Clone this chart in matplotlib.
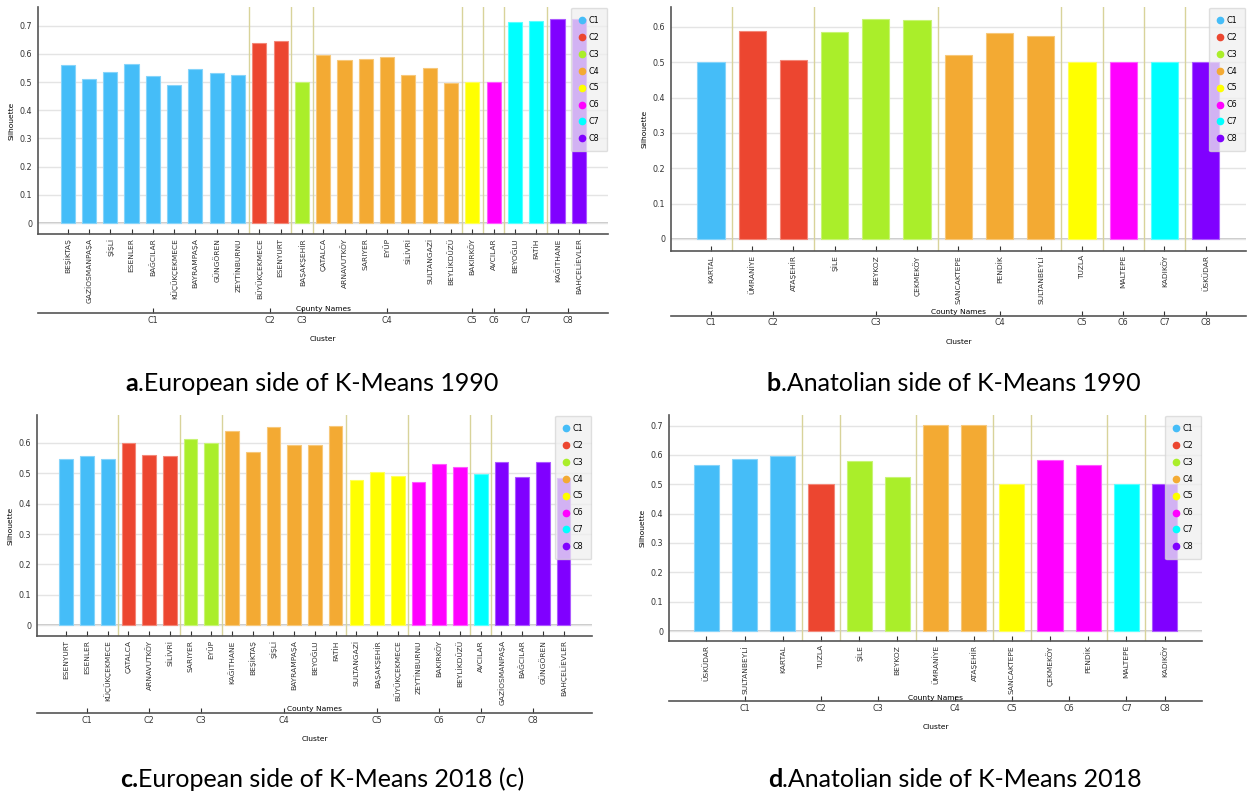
import numpy as np
import matplotlib
matplotlib.use("Agg")
import matplotlib.pyplot as plt
from matplotlib.lines import Line2D

# ── Data ─────────────────────────────────────────────────────────────────────
CLUSTERS = ["C1", "C2", "C3", "C4", "C5", "C6", "C7", "C8"]
COLORS = ["#45bdf8", "#ec4630", "#aaee2a", "#f3aa33",
          "#ffff00", "#ff00ff", "#00ffff", "#8000ff"]

eu90_names = ["BEŞİKTAŞ", "GAZİOSMANPAŞA", "ŞİŞLİ", "ESENLER", "BAĞCILAR",
              "KÜÇÜKÇEKMECE", "BAYRAMPAŞA", "GÜNGÖREN", "ZEYTİNBURNU",
              "BÜYÜKÇEKMECE", "ESENYURT", "BAŞAKŞEHİR", "ÇATALCA",
              "ARNAVUTKÖY", "SARIYER", "EYÜP", "SİLİVRİ", "SULTANGAZİ",
              "BEYLİKDÜZÜ", "BAKIRKÖY", "AVCILAR", "BEYOĞLU", "FATİH",
              "KAĞITHANE", "BAHÇELİEVLER"]
eu90_values = [0.562, 0.511, 0.536, 0.564, 0.520, 0.490, 0.545, 0.531, 0.525,
               0.640, 0.646, 0.499, 0.596, 0.578, 0.581, 0.589, 0.526, 0.549,
               0.497, 0.499, 0.499, 0.712, 0.715, 0.725, 0.725]
eu90_cluster = [1, 1, 1, 1, 1, 1, 1, 1, 1, 2, 2, 3, 4, 4, 4, 4, 4, 4, 4,
                5, 6, 7, 7, 8, 8]

an90_names = ["KARTAL", "ÜMRANİYE", "ATAŞEHİR", "ŞİLE", "BEYKOZ", "ÇEKMEKÖY",
              "SANCAKTEPE", "PENDİK", "SULTANBEYLİ", "TUZLA", "MALTEPE",
              "KADIKÖY", "ÜSKÜDAR"]
an90_values = [0.500, 0.588, 0.506, 0.584, 0.621, 0.620, 0.521, 0.582, 0.574,
               0.500, 0.500, 0.500, 0.500]
an90_cluster = [1, 2, 2, 3, 3, 3, 4, 4, 4, 5, 6, 7, 8]

eu18_names = ["ESENYURT", "ESENLER", "KÜÇÜKÇEKMECE", "ÇATALCA", "ARNAVUTKÖY",
              "SİLİVRİ", "SARIYER", "EYÜP", "KAĞITHANE", "BEŞİKTAŞ", "ŞİŞLİ",
              "BAYRAMPAŞA", "BEYOĞLU", "FATİH", "SULTANGAZİ", "BAŞAKŞEHİR",
              "BÜYÜKÇEKMECE", "ZEYTİNBURNU", "BAKIRKÖY", "BEYLİKDÜZÜ",
              "AVCILAR", "GAZİOSMANPAŞA", "BAĞCILAR", "GÜNGÖREN",
              "BAHÇELİEVLER"]
eu18_values = [0.547, 0.557, 0.546, 0.601, 0.559, 0.557, 0.612, 0.600, 0.639,
               0.569, 0.654, 0.594, 0.594, 0.656, 0.478, 0.505, 0.492, 0.470,
               0.532, 0.520, 0.499, 0.537, 0.488, 0.536, 0.484]
eu18_cluster = [1, 1, 1, 2, 2, 2, 3, 3, 4, 4, 4, 4, 4, 4, 5, 5, 5, 6, 6, 6,
                7, 8, 8, 8, 8]

an18_names = ["ÜSKÜDAR", "SULTANBEYLİ", "KARTAL", "TUZLA", "ŞİLE", "BEYKOZ",
              "ÜMRANİYE", "ATAŞEHİR", "SANCAKTEPE", "ÇEKMEKÖY", "PENDİK",
              "MALTEPE", "KADIKÖY"]
an18_values = [0.565, 0.586, 0.597, 0.500, 0.579, 0.524, 0.701, 0.701, 0.500,
               0.583, 0.566, 0.500, 0.500]
an18_cluster = [1, 1, 1, 2, 3, 3, 4, 4, 5, 6, 6, 7, 8]

# ── Helpers ──────────────────────────────────────────────────────────────────
SEP_COLOR = "#d8d39a"
GRID_COLOR = "#e4e4e4"
AXIS_COLOR = "#555555"
TICK_FS = 5.4


def lighten(c, f=0.35):
    rgb = np.array(matplotlib.colors.to_rgb(c))
    return tuple(rgb + (1 - rgb) * f)


def draw_panel(fig, rect, names, values, cluster, ylim, xlim, yticks, cl_y):
    ax = fig.add_axes(rect)
    x = np.arange(len(names))
    cols = [COLORS[c - 1] for c in cluster]
    ax.bar(x, values, width=0.66, color=cols,
           edgecolor=[lighten(c) for c in cols], linewidth=0.8, zorder=3)

    ax.set_xlim(*xlim)
    ax.set_ylim(*ylim)
    ax.set_yticks(yticks)
    ax.set_yticklabels(["0" if t == 0 else f"{t:.1f}" for t in yticks],
                       fontsize=TICK_FS + 0.4, color="#333333")
    ax.tick_params(axis="y", length=0, pad=4)
    ax.grid(axis="y", color=GRID_COLOR, linewidth=1.0, zorder=0)
    ax.axhline(0, color="#c4c4c4", linewidth=1.3, zorder=1)

    ax.set_xticks(x)
    ax.set_xticklabels(names, rotation=90, fontsize=TICK_FS, color="#333333")
    ax.tick_params(axis="x", direction="in", length=3.5, width=0.8,
                   color="#333333", pad=3)

    for s in ["top", "right"]:
        ax.spines[s].set_visible(False)
    for s in ["left", "bottom"]:
        ax.spines[s].set_color(AXIS_COLOR)
        ax.spines[s].set_linewidth(1.2)

    # cluster separators
    for i in range(1, len(cluster)):
        if cluster[i] != cluster[i - 1]:
            ax.axvline(i - 0.5, color=SEP_COLOR, linewidth=1.0, zorder=2)

    ax.set_ylabel("Silhouette", fontsize=TICK_FS, labelpad=4)

    # second axis with cluster labels
    cl = np.array(cluster)
    centers = [x[cl == k].mean() for k in range(1, 9)]
    sec = ax.secondary_xaxis(cl_y)
    sec.set_xticks(centers)
    sec.set_xticklabels(CLUSTERS, fontsize=TICK_FS + 0.4, color="#333333")
    sec.tick_params(direction="in", length=3.5, width=0.8, color="#333333", pad=2)
    sec.spines["bottom"].set_color(AXIS_COLOR)
    sec.spines["bottom"].set_linewidth(1.2)
    sec.set_xlabel("Cluster", fontsize=TICK_FS, labelpad=8)
    ax.text(0.5, cl_y + 0.003, "County Names", transform=ax.transAxes,
            ha="center", va="bottom", fontsize=TICK_FS)

    handles = [Line2D([], [], marker="o", linestyle="none", markersize=4.5,
                      color=c) for c in COLORS]
    leg = ax.legend(handles, CLUSTERS, loc="upper right", fontsize=TICK_FS + 0.4,
                    borderaxespad=0.1, labelspacing=0.98, handlelength=0.6,
                    handletextpad=0.5, borderpad=1.0, fancybox=True,
                    framealpha=0.75)
    leg.get_frame().set_facecolor("#efefef")
    leg.get_frame().set_edgecolor("#d6d6d6")
    leg.set_zorder(5)
    return ax


# ── Figure ───────────────────────────────────────────────────────────────────
W, H = 1253, 796
fig = plt.figure(figsize=(W / 100, H / 100), dpi=100)


def rect(l, r, t, b):
    return [l / W, (H - b) / H, (r - l) / W, (b - t) / H]


yt7 = [0, 0.1, 0.2, 0.3, 0.4, 0.5, 0.6, 0.7]
yt6 = [0, 0.1, 0.2, 0.3, 0.4, 0.5, 0.6]

draw_panel(fig, rect(38, 608, 7, 234), eu90_names, eu90_values, eu90_cluster,
           (-0.039, 0.766), (-1.39, 25.37), yt7, -0.348)
draw_panel(fig, rect(671, 1246, 7, 251), an90_names, an90_values, an90_cluster,
           (-0.034, 0.656), (-0.97, 12.98), yt6, -0.265)
draw_panel(fig, rect(37, 592, 415, 636), eu18_names, eu18_values, eu18_cluster,
           (-0.036, 0.692), (-1.41, 25.37), yt6, -0.348)
draw_panel(fig, rect(669, 1202, 415, 641), an18_names, an18_values,
           an18_cluster, (-0.034, 0.736), (-0.98, 12.98), yt7, -0.267)

# captions
cap_ax = fig.add_axes([0, 0, 1, 1], frameon=False)
cap_ax.set_axis_off()
cap_ax.set_xlim(0, W)
cap_ax.set_ylim(H, 0)


def cap(x, y, letter, rest):
    t = cap_ax.text(x, y, letter, fontsize=18, fontweight="bold",
                    family="Lato", ha="left", va="baseline")
    cap_ax.annotate(rest, xy=(1, 0), xycoords=t, xytext=(0, 0),
                    textcoords="offset points", fontsize=18, family="Lato",
                    ha="left", va="bottom", annotation_clip=False)


cap(125, 391, "a", ".European side of K-Means 1990")
cap(767, 391, "b", ".Anatolian side of K-Means 1990")
cap(120, 787, "c.", "European side of K-Means 2018 (c)")
cap(768, 787, "d", ".Anatolian side of K-Means 2018")

fig.savefig("out.png", dpi=100)
